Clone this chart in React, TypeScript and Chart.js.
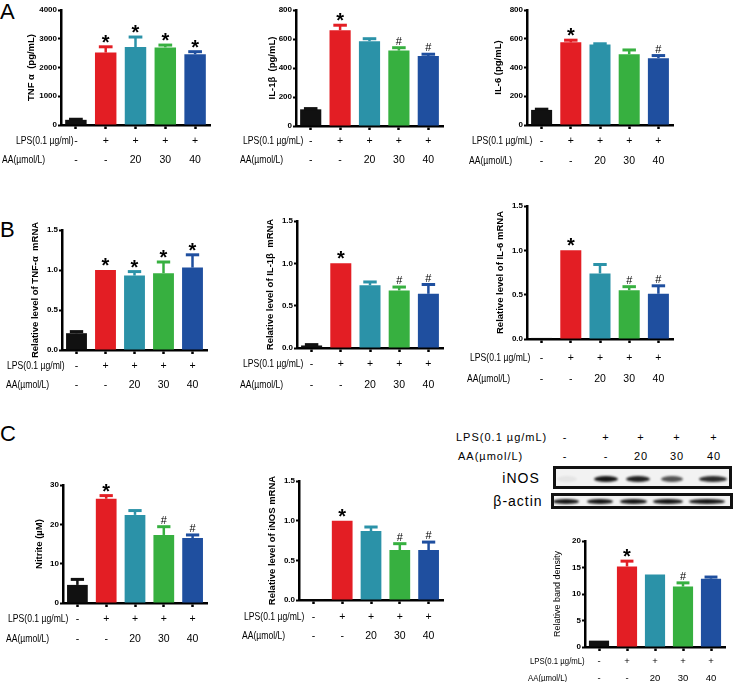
import React, { useEffect, useRef } from "react";
import { Chart, registerables } from "chart.js";

Chart.register(...registerables);

// ---------- data ----------
const LPS_ROW = ["-", "+", "+", "+", "+"];
const AA_ROW = ["-", "-", "20", "30", "40"];
const BAR_COLORS = ["#111111", "#e31e24", "#2b92a8", "#37b040", "#1f4f9f"];

const TNF_PROTEIN = [180, 2520, 2710, 2700, 2460];
const TNF_PROTEIN_ERR = [200, 2720, 3060, 2780, 2550];
const TNF_PROTEIN_SIG = ["", "*", "*", "*", "*"];

const IL1B_PROTEIN = [115, 660, 585, 520, 483];
const IL1B_PROTEIN_ERR = [120, 695, 602, 540, 495];
const IL1B_PROTEIN_SIG = ["", "*", "", "#", "#"];

const IL6_PROTEIN = [105, 575, 560, 492, 465];
const IL6_PROTEIN_ERR = [110, 590, 565, 522, 483];
const IL6_PROTEIN_SIG = ["", "*", "", "", "#"];

const TNF_MRNA = [0.21, 1.0, 0.93, 0.96, 1.03];
const TNF_MRNA_ERR = [0.23, 1.0, 0.98, 1.1, 1.19];
const TNF_MRNA_SIG = ["", "*", "*", "*", "*"];

const IL1B_MRNA = [0.03, 1.0, 0.74, 0.68, 0.64];
const IL1B_MRNA_ERR = [0.04, 1.0, 0.78, 0.72, 0.75];
const IL1B_MRNA_SIG = ["", "*", "", "#", "#"];

const IL6_MRNA = [0.012, 1.0, 0.74, 0.55, 0.51];
const IL6_MRNA_ERR = [0.015, 1.0, 0.84, 0.59, 0.6];
const IL6_MRNA_SIG = ["", "*", "", "#", "#"];

const NITRITE = [4.6, 26.5, 22.4, 17.3, 16.5];
const NITRITE_ERR = [6.0, 27.3, 23.5, 19.4, 17.3];
const NITRITE_SIG = ["", "*", "", "#", "#"];

const INOS_MRNA = [0.01, 1.0, 0.87, 0.63, 0.63];
const INOS_MRNA_ERR = [0.01, 1.0, 0.92, 0.71, 0.73];
const INOS_MRNA_SIG = ["", "*", "", "#", "#"];

const INOS_DENSITY = [1.2, 15.2, 13.7, 11.4, 12.9];
const INOS_DENSITY_ERR = [1.2, 16.2, 13.75, 12.1, 13.2];
const INOS_DENSITY_SIG = ["", "*", "", "#", ""];

const INOS_BAND = [0.06, 1, 0.95, 0.72, 0.9];
const ACTIN_BAND = [1, 1, 1, 1, 1];

// ---------- styles ----------
const SANS = '"Liberation Sans", Arial, sans-serif';
const HEADER_SQUEEZE = 0.82;

type Panel = {
  title: string;
  lpsHeader: string;
  values: number[];
  err: number[];
  sig: string[];
  yMax: number;
  yStep: number;
  decimals: number;
  axisX: number;
  top: number;
  bottom: number;
  right: number;
  titleX: number;
  lpsX: number;
  aaX: number;
  row1: number;
  lh: number;
  titleSize: number;
  titleWeight: string;
  xFont: number;
};

const base = { titleSize: 9.5, titleWeight: "bold", xFont: 10.5 };

const PANELS: Panel[] = [
  { ...base, title: "TNF α  (pg/mL)", lpsHeader: "LPS(0.1 µg/ml)", values: TNF_PROTEIN, err: TNF_PROTEIN_ERR, sig: TNF_PROTEIN_SIG, yMax: 4000, yStep: 1000, decimals: 0,
    axisX: 61, top: 10, bottom: 125, right: 210, titleX: 31, lpsX: 16, aaX: 2, row1: 16, lh: 19 },
  { ...base, title: "IL-1β  (pg/mL)", lpsHeader: "LPS(0.1 µg/mL)", values: IL1B_PROTEIN, err: IL1B_PROTEIN_ERR, sig: IL1B_PROTEIN_SIG, yMax: 800, yStep: 200, decimals: 0,
    axisX: 296, top: 10, bottom: 126, right: 443, titleX: 272, lpsX: 243, aaX: 240, row1: 15, lh: 19 },
  { ...base, title: "IL-6 (pg/mL)", lpsHeader: "LPS(0.1 µg/mL)", values: IL6_PROTEIN, err: IL6_PROTEIN_ERR, sig: IL6_PROTEIN_SIG, yMax: 800, yStep: 200, decimals: 0,
    axisX: 527, top: 10, bottom: 125, right: 673, titleX: 498, lpsX: 472, aaX: 469, row1: 16, lh: 20 },
  { ...base, title: "Relative level of TNF-α  mRNA", lpsHeader: "LPS(0.1 µg/ml)", values: TNF_MRNA, err: TNF_MRNA_ERR, sig: TNF_MRNA_SIG, yMax: 1.5, yStep: 0.5, decimals: 1,
    axisX: 62, top: 230, bottom: 350, right: 207, titleX: 35, lpsX: 7, aaX: 6, row1: 16, lh: 19 },
  { ...base, title: "Relative level of IL-1β  mRNA", lpsHeader: "LPS(0.1 µg/mL)", values: IL1B_MRNA, err: IL1B_MRNA_ERR, sig: IL1B_MRNA_SIG, yMax: 1.5, yStep: 0.5, decimals: 1,
    axisX: 297, top: 221, bottom: 348, right: 443, titleX: 270, lpsX: 243, aaX: 240, row1: 16, lh: 21 },
  { ...base, title: "Relative level of IL-6 mRNA", lpsHeader: "LPS(0.1 µg/mL)", values: IL6_MRNA, err: IL6_MRNA_ERR, sig: IL6_MRNA_SIG, yMax: 1.5, yStep: 0.5, decimals: 1,
    axisX: 527, top: 206, bottom: 339, right: 673, titleX: 500, lpsX: 470, aaX: 467, row1: 19, lh: 21 },
  { ...base, title: "Nitrite (µM)", lpsHeader: "LPS(0.1 µg/mL)", values: NITRITE, err: NITRITE_ERR, sig: NITRITE_SIG, yMax: 30, yStep: 10, decimals: 0,
    axisX: 63, top: 485, bottom: 603, right: 207, titleX: 39, lpsX: 8, aaX: 6, row1: 16, lh: 20 },
  { ...base, title: "Relative level of iNOS mRNA", lpsHeader: "LPS(0.1 µg/mL)", values: INOS_MRNA, err: INOS_MRNA_ERR, sig: INOS_MRNA_SIG, yMax: 1.5, yStep: 0.5, decimals: 1,
    axisX: 299, top: 481, bottom: 600, right: 443, titleX: 272, lpsX: 244, aaX: 242, row1: 17, lh: 19 },
  { title: "Relative band density", lpsHeader: "LPS(0.1 µg/mL)", values: INOS_DENSITY, err: INOS_DENSITY_ERR, sig: INOS_DENSITY_SIG, yMax: 20, yStep: 5, decimals: 0,
    axisX: 585, top: 541, bottom: 647, right: 725, titleX: 558, lpsX: 530, aaX: 528, row1: 14, lh: 17, titleSize: 9, titleWeight: "normal", xFont: 9.5 },
];

const TL = 4;

function geom(p: Panel) {
  const tOff = (p.titleSize * 1.2) / 2;
  const scaleLeftAbs = p.titleX - tOff;
  const left = Math.floor(Math.min(p.lpsX, p.aaX, scaleLeftAbs) - 2);
  const padLeft = scaleLeftAbs - left;
  const yW = p.axisX - scaleLeftAbs;
  const padTop = 14;
  const top = p.top - padTop;
  const xH = 48;
  const h = p.bottom - top + xH;
  const padRight = 6;
  const w = p.right - left + padRight;
  return { left, top, w, h, padLeft, padTop, padRight, yW, xH };
}

function BarPanel({ p }: { p: Panel }) {
  const ref = useRef<HTMLCanvasElement>(null);
  const g = geom(p);
  useEffect(() => {
    const pad = p.row1 - TL - p.lh / 2;
    const annot = {
      id: "annot",
      afterDatasetsDraw(chart: any) {
        const ctx = chart.ctx;
        const meta = chart.getDatasetMeta(0);
        const ys = chart.scales.y;
        ctx.save();
        meta.data.forEach((bar: any, i: number) => {
          const topY = bar.y;
          const capY = ys.getPixelForValue(p.err[i]);
          const w = bar.width;
          ctx.strokeStyle = BAR_COLORS[i];
          ctx.lineCap = "butt";
          if (topY - capY > 0.5) {
            ctx.lineWidth = 2.5;
            ctx.beginPath();
            ctx.moveTo(bar.x, topY);
            ctx.lineTo(bar.x, capY);
            ctx.stroke();
            ctx.lineWidth = 3;
            ctx.beginPath();
            ctx.moveTo(bar.x - w * 0.32, capY);
            ctx.lineTo(bar.x + w * 0.32, capY);
            ctx.stroke();
          }
          const s = p.sig[i];
          if (s) {
            ctx.fillStyle = "#000";
            ctx.font = s === "*" ? `bold 20px ${SANS}` : `11px ${SANS}`;
            ctx.textAlign = "center";
            ctx.textBaseline = "alphabetic";
            const m = ctx.measureText(s);
            const glyphBottom = Math.min(capY, topY) - (s === "*" ? 4 : 3);
            ctx.fillText(s, bar.x, glyphBottom - m.actualBoundingBoxDescent);
          }
        });
        ctx.restore();
      },
      afterDraw(chart: any) {
        const ctx = chart.ctx;
        const xs = chart.scales.x;
        const y1 = xs.top + TL + pad + p.lh / 2;
        ctx.save();
        ctx.fillStyle = "#000";
        ctx.font = `${p.xFont}px ${SANS}`;
        ctx.textAlign = "left";
        ctx.textBaseline = "middle";
        const draw = (t: string, x: number, y: number) => {
          ctx.save();
          ctx.translate(x, y);
          ctx.scale(HEADER_SQUEEZE, 1);
          ctx.fillText(t, 0, 0);
          ctx.restore();
        };
        draw(p.lpsHeader, p.lpsX - g.left, y1);
        draw("AA(µmol/L)", p.aaX - g.left, y1 + p.lh);
        ctx.restore();
      },
    };
    const chart = new Chart(ref.current as HTMLCanvasElement, {
      type: "bar",
      data: {
        labels: LPS_ROW.map((l, i) => [l, AA_ROW[i]]),
        datasets: [
          {
            data: p.values,
            backgroundColor: BAR_COLORS,
            borderWidth: 0,
            barPercentage: 0.72,
            categoryPercentage: 1,
          },
        ],
      },
      options: {
        responsive: false,
        animation: false,
        events: [],
        layout: { padding: { left: g.padLeft, top: g.padTop, right: g.padRight, bottom: 0 } },
        plugins: { legend: { display: false }, tooltip: { enabled: false }, title: { display: false } },
        scales: {
          x: {
            offset: true,
            grid: { display: true, drawOnChartArea: false, drawTicks: true, tickLength: TL, tickWidth: 2.5, tickColor: "#000", offset: false },
            border: { display: true, width: 2.5, color: "#000" },
            ticks: {
              color: "#000",
              autoSkip: false,
              maxRotation: 0,
              minRotation: 0,
              padding: pad,
              font: { family: SANS, size: p.xFont, lineHeight: `${p.lh}px` },
            },
            afterFit: (s: any) => {
              s.height = g.xH;
            },
          },
          y: {
            min: 0,
            max: p.yMax,
            grid: { display: true, drawOnChartArea: false, drawTicks: true, tickLength: 3, tickWidth: 2, tickColor: "#000" },
            border: { display: true, width: 2.5, color: "#000" },
            ticks: {
              stepSize: p.yStep,
              color: "#000",
              padding: 1,
              font: { family: SANS, size: 8, weight: "bold" },
              callback: (v: any) => Number(v).toFixed(p.decimals),
            },
            title: {
              display: true,
              text: p.title,
              color: "#000",
              padding: { top: 0, bottom: 0 },
              font: { family: SANS, size: p.titleSize, weight: p.titleWeight as any },
            },
            afterFit: (s: any) => {
              s.width = g.yW;
            },
          },
        },
      } as any,
      plugins: [annot],
    });
    return () => chart.destroy();
  }, []);
  return (
    <canvas
      ref={ref}
      width={g.w}
      height={g.h}
      style={{ position: "absolute", left: g.left, top: g.top, width: g.w, height: g.h }}
    />
  );
}

// ---------- western blot (image-like inset) ----------
const BLOT_MARK_X = [565, 606, 641, 677, 714];
const INOS_LANE_X = [567, 606, 638, 672, 713];
const INOS_LANE_W = [20, 24, 24, 22, 28];
const ACTIN_LANE_X = [566, 600, 633, 668, 707];
const ACTIN_LANE_W = [26, 26, 27, 30, 36];

function txt(text: string, left: number, cy: number, size: number, extra: any = {}) {
  return (
    <div
      key={`${text}-${left}-${cy}`}
      style={{
        position: "absolute",
        left,
        top: cy - 7,
        height: 14,
        lineHeight: "14px",
        fontSize: size,
        fontFamily: SANS,
        whiteSpace: "nowrap",
        color: "#000",
        ...extra,
      }}
    >
      {text}
    </div>
  );
}

function centered(text: string, cx: number, cy: number, size: number, extra: any = {}) {
  return (
    <div
      key={`c-${text}-${cx}-${cy}`}
      style={{
        position: "absolute",
        left: cx - 30,
        width: 60,
        textAlign: "center",
        top: cy - 7,
        height: 14,
        lineHeight: "14px",
        fontSize: size,
        fontFamily: SANS,
        whiteSpace: "nowrap",
        color: "#000",
        ...extra,
      }}
    >
      {text}
    </div>
  );
}

function Blot() {
  const ls = { letterSpacing: "1px" };
  return (
    <>
      {txt("LPS(0.1 µg/mL)", 456, 437, 11, ls)}
      {txt("AA(µmol/L)", 458, 456, 11, ls)}
      {LPS_ROW.map((l, i) => centered(l, BLOT_MARK_X[i], 437, 11, ls))}
      {AA_ROW.map((l, i) => centered(l, BLOT_MARK_X[i], 456, 11, ls))}
      {centered("iNOS", 521, 478, 14, ls)}
      {centered("β-actin", 518, 501, 14, ls)}
      <div
        style={{
          position: "absolute", left: 553, top: 466, width: 179, height: 23, boxSizing: "border-box",
          border: "3px solid #111", background: "#f2f2f2", overflow: "hidden",
        }}
      >
        {INOS_BAND.map((a, i) => (
          <div
            key={i}
            style={{
              position: "absolute", left: INOS_LANE_X[i] - INOS_LANE_W[i] / 2 - 556, top: 7,
              width: INOS_LANE_W[i], height: 6, borderRadius: "50%", background: "#151515",
              opacity: a, filter: "blur(1px)",
            }}
          />
        ))}
      </div>
      <div
        style={{
          position: "absolute", left: 551, top: 493, width: 182, height: 16, boxSizing: "border-box",
          border: "3px solid #111", background: "#f2f2f2", overflow: "hidden",
        }}
      >
        {ACTIN_BAND.map((a, i) => (
          <div
            key={i}
            style={{
              position: "absolute", left: ACTIN_LANE_X[i] - ACTIN_LANE_W[i] / 2 - 554, top: 3,
              width: ACTIN_LANE_W[i], height: 5, borderRadius: "50%", background: "#151515",
              opacity: a, filter: "blur(0.8px)",
            }}
          />
        ))}
      </div>
    </>
  );
}

function Letter({ ch, top }: { ch: string; top: number }) {
  return (
    <div style={{ position: "absolute", left: 0, top, fontSize: 22, lineHeight: "22px", fontFamily: SANS, color: "#000" }}>{ch}</div>
  );
}

export default function App() {
  return (
    <div style={{ position: "absolute", left: 0, top: 0, width: 735, height: 682, background: "#fff", overflow: "hidden" }}>
      <Letter ch="A" top={1} />
      <Letter ch="B" top={219} />
      <Letter ch="C" top={423} />
      {PANELS.map((p, i) => (
        <BarPanel key={i} p={p} />
      ))}
      <Blot />
    </div>
  );
}
